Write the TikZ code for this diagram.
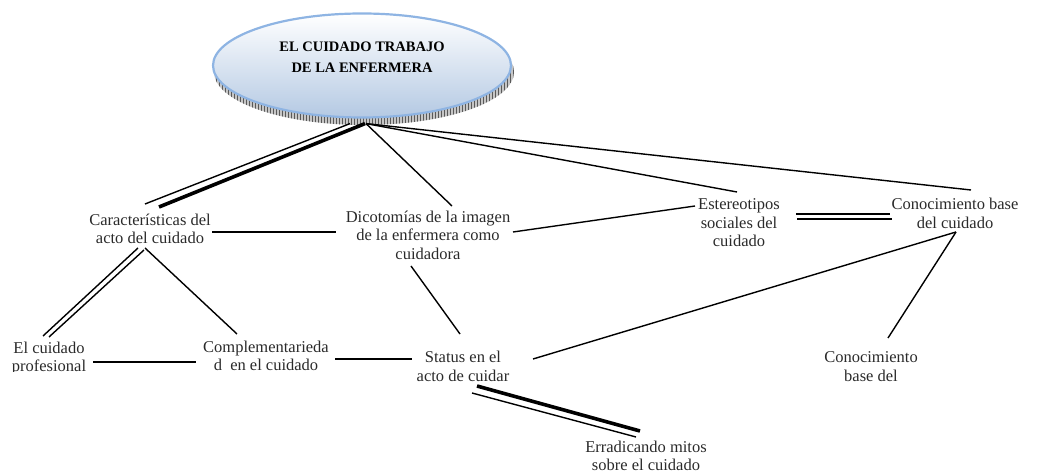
\documentclass[tikz,border=0pt]{standalone}
\usepackage{fontspec}
\setmainfont{Liberation Serif}
\usetikzlibrary{shapes.geometric,patterns}
\definecolor{ellborder}{HTML}{8EB4E3}
\definecolor{ellfill}{HTML}{B4C9E3}
\definecolor{txtcol}{HTML}{2A2A2A}
\begin{document}
\begin{tikzpicture}[x=1pt,y=1pt,
  txt/.style={font=\fontsize{16.5}{18.5}\selectfont, align=center, inner sep=0pt, text=txtcol},
  conn/.style={line width=1.4pt, black},
  heavy/.style={line width=3.6pt, black}]
\useasboundingbox (0,0) rectangle (1042,471);
% shadow of the ellipse
\fill[gray!45] (364,399) ellipse [x radius=150, y radius=53];
\fill[pattern=vertical lines, pattern color=gray!70!black] (364,399) ellipse [x radius=150, y radius=53];
% root ellipse
\node[ellipse, draw=ellborder, line width=2.2pt, top color=white, bottom color=ellfill,
      minimum width=298pt, minimum height=104pt,
      label={[font=\fontsize{14.5}{21}\selectfont\bfseries, text=black, align=center, yshift=8.5pt]center:EL CUIDADO TRABAJO\\DE LA ENFERMERA}]
      (root) at (362,405.5) {};
\coordinate (hub) at ([shift={(4,-5)}]root.south);
% text nodes
\node[txt] (car) at (150,242) {Características del\\acto del cuidado};
\node[txt] (dic) at (428,236) {Dicotomías de la imagen\\de la enfermera como\\cuidadora};
\node[txt] (est) at (739,248) {Estereotipos\\sociales del\\cuidado};
\node[txt] (con) at (955,257.5) {Conocimiento base\\del cuidado};
\begin{scope}
\clip (0,99) rectangle (120,140);
\node[txt] (prof) at (49,112.5) {El cuidado\\profesional};
\end{scope}
\node[txt] (comp) at (266,115) {Complementarieda\\d\ \ en el cuidado};
\node[txt] (stat) at (463,104.5) {Status en el\\acto de cuidar};
\node[txt] (conb) at (871,104.5) {Conocimiento\\base del};
\node[txt] (err) at (646,15) {Erradicando mitos\\sobre el cuidado};
% connectors from root
\draw[conn] ([shift={(-12,-5)}]root.south) -- ([shift={(-5,25)}]car.center);
\draw[heavy] ([shift={(3,-5)}]root.south) -- ([shift={(9,22)}]car.center);
\draw[conn] (hub) -- ([shift={(24,29)}]dic.center);
\draw[conn] (hub) -- ([shift={(-2,31)}]est.center);
\draw[conn] (hub) -- ([shift={(16,23.5)}]con.center);
% middle row
\draw[conn] ([shift={(62,-3)}]car.center) -- ([shift={(-92,3)}]dic.center);
\draw[conn] ([shift={(85,3)}]dic.center) -- ([shift={(-44,17)}]est.center);
\draw[conn] ([shift={(57,9)}]est.center) -- ([shift={(-65,-0.5)}]con.center);
\draw[conn] ([shift={(58,4)}]est.center) -- ([shift={(-63,-5.5)}]con.center);
% lower connections
\draw[conn] ([shift={(-12,-19)}]car.center) -- ([shift={(-6,22.5)}]prof.center);
\draw[conn] ([shift={(-6,-21)}]car.center) -- ([shift={(0,21.5)}]prof.center);
\draw[conn] ([shift={(-5,-19)}]car.center) -- ([shift={(-29,22)}]comp.center);
\draw[conn] ([shift={(-17,-31)}]dic.center) -- ([shift={(-3,32.5)}]stat.center);
\draw[conn] ([shift={(1,-18.5)}]con.center) -- ([shift={(70,7.5)}]stat.center);
\draw[conn] ([shift={(1,-18.5)}]con.center) -- ([shift={(17,28.5)}]conb.center);
\draw[conn] ([shift={(44,-3.5)}]prof.center) -- ([shift={(-70,-6)}]comp.center);
\draw[conn] ([shift={(69,-3)}]comp.center) -- ([shift={(-51,7.5)}]stat.center);
\draw[heavy] ([shift={(14,-19.5)}]stat.center) -- ([shift={(-6,25)}]err.center);
\draw[conn] ([shift={(9,-26.5)}]stat.center) -- ([shift={(-10,19)}]err.center);
\end{tikzpicture}
\end{document}
